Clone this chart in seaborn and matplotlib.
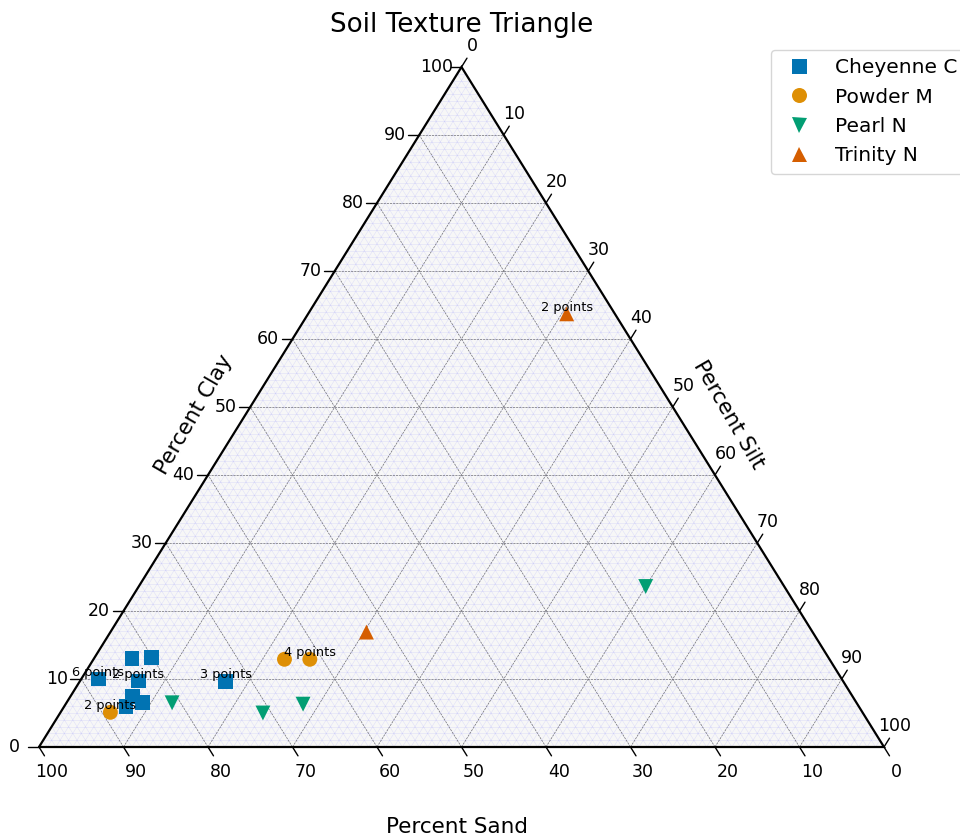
import numpy as np
import pandas as pd
import matplotlib
matplotlib.use("Agg")
import matplotlib.pyplot as plt
from matplotlib.collections import LineCollection
from matplotlib.lines import Line2D
from matplotlib.patches import Polygon
import seaborn as sns

# Sample composition (percent sand / silt / clay) and number of samples at each spot
cheyenne_sand = [88.0, 82.5, 80.1, 83.4, 85.2, 86.7, 84.4, 73.1]
cheyenne_silt = [2.0, 4.5, 6.8, 6.9, 7.4, 7.3, 9.0, 17.3]
cheyenne_clay = [10.0, 13.0, 13.1, 9.7, 7.4, 6.0, 6.6, 9.6]
cheyenne_n = [6, 1, 1, 2, 1, 1, 1, 3]

powder_sand = [89.0, 64.5, 61.5]
powder_silt = [5.9, 22.6, 25.6]
powder_clay = [5.1, 12.9, 12.9]
powder_n = [2, 1, 4]

pearl_sand = [81.0, 71.0, 65.6, 16.4]
pearl_silt = [12.5, 24.0, 28.1, 60.0]
pearl_clay = [6.5, 5.0, 6.3, 23.6]
pearl_n = [1, 1, 1, 1]

trinity_sand = [5.7, 52.8]
trinity_silt = [30.6, 30.3]
trinity_clay = [63.7, 16.9]
trinity_n = [2, 1]

rivers = ["Cheyenne C", "Powder M", "Pearl N", "Trinity N"]
markers = {"Cheyenne C": "s", "Powder M": "o", "Pearl N": "v", "Trinity N": "^"}
colors = sns.color_palette("colorblind", 4)

frames = []
for name, sand, silt, clay, n in [
    ("Cheyenne C", cheyenne_sand, cheyenne_silt, cheyenne_clay, cheyenne_n),
    ("Powder M", powder_sand, powder_silt, powder_clay, powder_n),
    ("Pearl N", pearl_sand, pearl_silt, pearl_clay, pearl_n),
    ("Trinity N", trinity_sand, trinity_silt, trinity_clay, trinity_n),
]:
    frames.append(pd.DataFrame({"river": name, "sand": sand, "silt": silt,
                                "clay": clay, "n": n}))
df = pd.concat(frames, ignore_index=True)

# ternary -> cartesian (bottom edge = silt axis position, height = clay)
df["x"] = df["silt"] + df["clay"] / 2
df["y"] = df["clay"]

sns.set_style("white")
plt.rcParams["font.family"] = ["DejaVu Sans"]
plt.rcParams["text.color"] = "black"

fig = plt.figure(figsize=(9.6, 8.4), dpi=100)
ax = fig.add_axes([0, 0, 1, 1])
ax.set_xlim(-39 / 8.45, 921 / 8.45)
ax.set_ylim(-93 / 6.8, 747 / 6.8)
ax.axis("off")

# background and grid
ax.add_patch(Polygon([(0, 0), (100, 0), (50, 100)], closed=True,
                     facecolor="whitesmoke", alpha=0.75, edgecolor="none", zorder=-10))


def grid_segments(step):
    segs = []
    for v in np.arange(step, 100, step):
        segs.append([(v / 2, v), (100 - v / 2, v)])          # clay
        segs.append([(v, 0), (50 + v / 2, 100 - v)])         # silt
        segs.append([(v, 0), (v / 2, v)])                    # sand
    return segs


ax.add_collection(LineCollection(grid_segments(1), colors="blue", linewidths=0.5,
                                 alpha=0.08, zorder=0))
ax.add_collection(LineCollection(grid_segments(10), colors="0.45", linewidths=0.5,
                                 linestyles=(0, (3, 1.5)), zorder=1))

ax.plot([0, 100, 50, 0], [0, 0, 100, 0], color="black", lw=1.6, zorder=3,
        solid_joinstyle="miter")

# ticks and tick labels
tl = 1.3
fs_tick = 12.5
for v in range(0, 101, 10):
    # clay (left)
    ex, ey = v / 2, v
    ax.plot([ex, ex - tl], [ey, ey], color="black", lw=1, zorder=3)
    ax.text(ex - 2.9, ey, str(v), ha="center", va="center", fontsize=fs_tick)
    # silt (right)
    ex, ey = 50 + v / 2, 100 - v
    ax.plot([ex, ex + tl * 0.5], [ey, ey + tl], color="black", lw=1, zorder=3)
    ax.text(ex + 1.25, ey + 3.1, str(v), ha="center", va="center", fontsize=fs_tick)
    # sand (bottom)
    ex, ey = 100 - v, 0
    ax.plot([ex, ex + tl * 0.5], [ey, ey - tl], color="black", lw=1, zorder=3)
    ax.text(ex + 1.5, -3.7, str(v), ha="center", va="center", fontsize=fs_tick)

ax.text(18.4, 48.8, "Percent Clay", rotation=60, ha="center", va="center", fontsize=15.5)
ax.text(81.6, 48.8, "Percent Silt", rotation=-60, ha="center", va="center", fontsize=15.5)
ax.text(49.5, -11.8, "Percent Sand", ha="center", va="center", fontsize=15.5)
fig.text(462 / 960, 1 - 25 / 840, "Soil Texture Triangle", ha="center", va="center",
         fontsize=18.8)

sns.scatterplot(data=df, x="x", y="y", hue="river", style="river", hue_order=rivers,
                style_order=rivers, markers=markers, palette=colors, s=115,
                linewidth=0, legend=False, ax=ax, zorder=5)

for _, row in df[df["n"] > 1].iterrows():
    ax.text(row["x"], row["y"] + 1.0, f"{row['n']} points", ha="center", va="center",
            fontsize=9.3, zorder=6)

handles = [Line2D([], [], linestyle="none", marker=markers[r], color=c, markersize=10.8,
                  markeredgewidth=0) for r, c in zip(rivers, colors)]
ax.legend(handles, rivers, loc="upper left", bbox_to_anchor=(771 / 960, 1 - 50 / 840),
          bbox_transform=fig.transFigure, borderaxespad=0, fontsize=14.5,
          labelspacing=0.52, frameon=True)

fig.savefig("out.png", dpi=100)
